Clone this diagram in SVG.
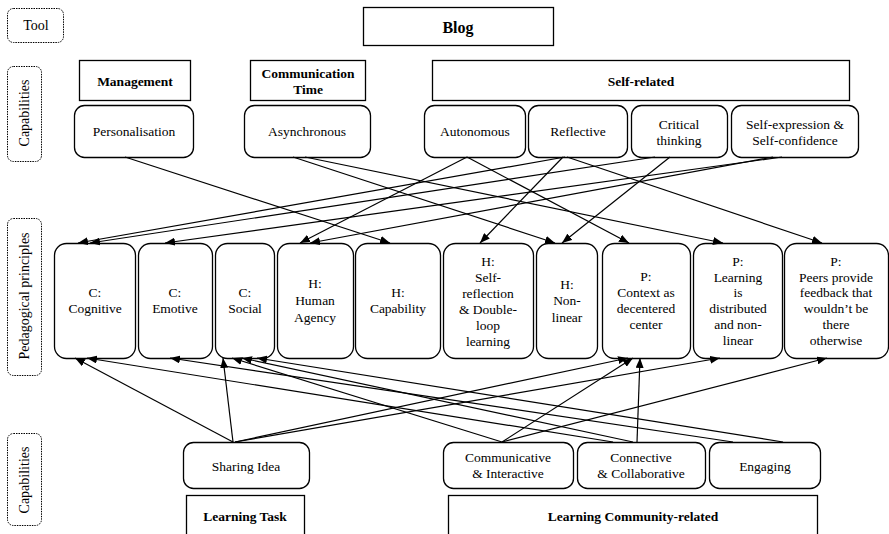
<svg xmlns="http://www.w3.org/2000/svg" width="889" height="534" viewBox="0 0 889 534" font-family="'Liberation Serif', Tinos, 'DejaVu Serif', serif">
  <style>
    text { font-family: "Liberation Serif", Tinos, "Times New Roman", "DejaVu Serif", serif; font-size: 13.5px; fill: #000; text-anchor: middle; }
    .b { font-weight: bold; }
    .big { font-size: 16px; font-weight: bold; }
    .lbl { fill: #fff; stroke: #000; stroke-width: 1; stroke-dasharray: 1.5 1; }
    .sq { fill: #fff; stroke: #000; stroke-width: 1.3; }
    .rd { fill: #fff; stroke: #000; stroke-width: 1.3; }
    .edge { fill: none; stroke: #000; stroke-width: 1.2; marker-end: url(#ah); }
  </style>
  <defs>
    <marker id="ah" viewBox="0 0 10 8" refX="10" refY="4" markerWidth="10" markerHeight="8" markerUnits="userSpaceOnUse" orient="auto">
      <path d="M0,0 L10,4 L0,8 Z" fill="#000"/>
    </marker>
  </defs>
  <rect width="889" height="534" fill="#fff"/>

  <!-- row labels -->
  <g id="label-tool">
    <rect class="lbl" x="7.5" y="8.5" width="56" height="34" rx="6"/>
    <text x="36" y="30" style="font-size:14px">Tool</text>
  </g>
  <g id="label-capabilities-top">
    <rect class="lbl" x="7.5" y="66.5" width="34" height="95" rx="6"/>
    <text transform="translate(29,113) rotate(-90)" style="font-size:14px">Capabilities</text>
  </g>
  <g id="label-principles">
    <rect class="lbl" x="7.5" y="218.5" width="34" height="157" rx="6"/>
    <text transform="translate(29,296) rotate(-90)" style="font-size:14px">Pedagogical principles</text>
  </g>
  <g id="label-capabilities-bottom">
    <rect class="lbl" x="7.5" y="433.5" width="34" height="92" rx="6"/>
    <text transform="translate(29,480) rotate(-90)" style="font-size:14px">Capabilities</text>
  </g>

  <!-- tool -->
  <g id="blog">
    <rect class="sq" x="363.5" y="7.5" width="190" height="38"/>
    <text class="big" x="458" y="33">Blog</text>
  </g>

  <!-- capability groups (top) -->
  <g id="management">
    <rect class="sq" x="79.5" y="60.5" width="111" height="40"/>
    <text class="b" x="135" y="86">Management</text>
  </g>
  <g id="communication-time">
    <rect class="sq" x="250.5" y="60.5" width="115" height="40"/>
    <text class="b" x="308" y="78">Communication</text>
    <text class="b" x="308" y="94">Time</text>
  </g>
  <g id="self-related">
    <rect class="sq" x="432.5" y="60.5" width="417" height="40"/>
    <text class="b" x="641" y="86">Self-related</text>
  </g>

  <!-- capabilities (top) -->
  <g id="personalisation">
    <rect class="rd" x="74.5" y="105.5" width="119" height="52" rx="10"/>
    <text x="134" y="136">Personalisation</text>
  </g>
  <g id="asynchronous">
    <rect class="rd" x="244.5" y="105.5" width="126" height="52" rx="10"/>
    <text x="307" y="136">Asynchronous</text>
  </g>
  <g id="autonomous">
    <rect class="rd" x="424.5" y="105.5" width="101" height="52" rx="10"/>
    <text x="475" y="136">Autonomous</text>
  </g>
  <g id="reflective">
    <rect class="rd" x="528.5" y="105.5" width="99" height="52" rx="10"/>
    <text x="578" y="136">Reflective</text>
  </g>
  <g id="critical-thinking">
    <rect class="rd" x="631.5" y="105.5" width="96" height="52" rx="10"/>
    <text x="679" y="129">Critical</text>
    <text x="679" y="145">thinking</text>
  </g>
  <g id="self-expression">
    <rect class="rd" x="731.5" y="105.5" width="127" height="52" rx="10"/>
    <text x="795" y="129">Self-expression &amp;</text>
    <text x="795" y="145">Self-confidence</text>
  </g>

  <!-- pedagogical principles -->
  <g id="c-cognitive">
    <rect class="rd" x="54.5" y="243.5" width="81" height="115" rx="12"/>
    <text x="95" y="297">C:</text>
    <text x="95" y="313">Cognitive</text>
  </g>
  <g id="c-emotive">
    <rect class="rd" x="138.5" y="243.5" width="74" height="115" rx="12"/>
    <text x="175" y="297">C:</text>
    <text x="175" y="313">Emotive</text>
  </g>
  <g id="c-social">
    <rect class="rd" x="215.5" y="243.5" width="59" height="115" rx="12"/>
    <text x="245" y="297">C:</text>
    <text x="245" y="313">Social</text>
  </g>
  <g id="h-human-agency">
    <rect class="rd" x="277.5" y="243.5" width="76" height="115" rx="12"/>
    <text x="315" y="288">H:</text>
    <text x="315" y="305">Human</text>
    <text x="315" y="322">Agency</text>
  </g>
  <g id="h-capability">
    <rect class="rd" x="355.5" y="243.5" width="85" height="115" rx="12"/>
    <text x="398" y="297">H:</text>
    <text x="398" y="313">Capability</text>
  </g>
  <g id="h-self-reflection">
    <rect class="rd" x="443.5" y="243.5" width="90" height="115" rx="12"/>
    <text x="488" y="266">H:</text>
    <text x="488" y="282">Self-</text>
    <text x="488" y="298">reflection</text>
    <text x="488" y="314">&amp; Double-</text>
    <text x="488" y="330">loop</text>
    <text x="488" y="346">learning</text>
  </g>
  <g id="h-non-linear">
    <rect class="rd" x="536.5" y="243.5" width="61" height="115" rx="12"/>
    <text x="567" y="289">H:</text>
    <text x="567" y="305">Non-</text>
    <text x="567" y="322">linear</text>
  </g>
  <g id="p-context">
    <rect class="rd" x="602.5" y="243.5" width="88" height="115" rx="12"/>
    <text x="646" y="281">P:</text>
    <text x="646" y="297">Context as</text>
    <text x="646" y="313">decentered</text>
    <text x="646" y="329">center</text>
  </g>
  <g id="p-learning">
    <rect class="rd" x="693.5" y="243.5" width="89" height="115" rx="12"/>
    <text x="738" y="266">P:</text>
    <text x="738" y="282">Learning</text>
    <text x="738" y="297">is</text>
    <text x="738" y="313">distributed</text>
    <text x="738" y="329">and non-</text>
    <text x="738" y="345">linear</text>
  </g>
  <g id="p-peers">
    <rect class="rd" x="784.5" y="243.5" width="104" height="115" rx="12"/>
    <text x="836" y="266">P:</text>
    <text x="836" y="282">Peers provide</text>
    <text x="836" y="297">feedback that</text>
    <text x="836" y="313">wouldn’t be</text>
    <text x="836" y="329">there</text>
    <text x="836" y="345">otherwise</text>
  </g>

  <!-- capabilities (bottom) -->
  <g id="sharing-idea">
    <rect class="rd" x="183.5" y="442.5" width="126" height="46" rx="10"/>
    <text x="246" y="471">Sharing Idea</text>
  </g>
  <g id="communicative">
    <rect class="rd" x="443.5" y="442.5" width="130" height="46" rx="10"/>
    <text x="508" y="462">Communicative</text>
    <text x="508" y="478">&amp; Interactive</text>
  </g>
  <g id="connective">
    <rect class="rd" x="577.5" y="442.5" width="128" height="46" rx="10"/>
    <text x="641" y="462">Connective</text>
    <text x="641" y="478">&amp; Collaborative</text>
  </g>
  <g id="engaging">
    <rect class="rd" x="709.5" y="442.5" width="111" height="46" rx="10"/>
    <text x="765" y="471">Engaging</text>
  </g>

  <!-- capability groups (bottom) -->
  <g id="learning-task">
    <rect class="sq" x="186.5" y="495.5" width="118" height="50"/>
    <text class="b" x="245" y="521">Learning Task</text>
  </g>
  <g id="learning-community">
    <rect class="sq" x="448.5" y="495.5" width="369" height="50"/>
    <text class="b" x="633" y="521">Learning Community-related</text>
  </g>

  <!-- connectors -->
  <g id="connectors">
    <!-- top capabilities to principles -->
    <path class="edge" d="M125,157 L390,243"/>
    <path class="edge" d="M293,157 L555,243"/>
    <path class="edge" d="M305,157 L723,243"/>
    <path class="edge" d="M467,157 L300,243"/>
    <path class="edge" d="M467,157 L629,243"/>
    <path class="edge" d="M565,157 L78,243"/>
    <path class="edge" d="M563,157 L480,243"/>
    <path class="edge" d="M567,157 L822,243"/>
    <path class="edge" d="M655,157 L90,243"/>
    <path class="edge" d="M670,157 L562,243"/>
    <path class="edge" d="M782,157 L165,243"/>
    <path class="edge" d="M773,157 L310,243"/>
    <!-- bottom capabilities to principles -->
    <path class="edge" d="M233,442 L75,358"/>
    <path class="edge" d="M233,442 L223,358"/>
    <path class="edge" d="M235,442 L628,358"/>
    <path class="edge" d="M235,442 L720,358"/>
    <path class="edge" d="M502,442 L232,358"/>
    <path class="edge" d="M502,442 L633,358"/>
    <path class="edge" d="M502,442 L827,358"/>
    <path class="edge" d="M613,442 L87,358"/>
    <path class="edge" d="M633,442 L242,358"/>
    <path class="edge" d="M637,442 L640,358"/>
    <path class="edge" d="M733,442 L170,358"/>
    <path class="edge" d="M783,442 L257,358"/>
  </g>
</svg>
